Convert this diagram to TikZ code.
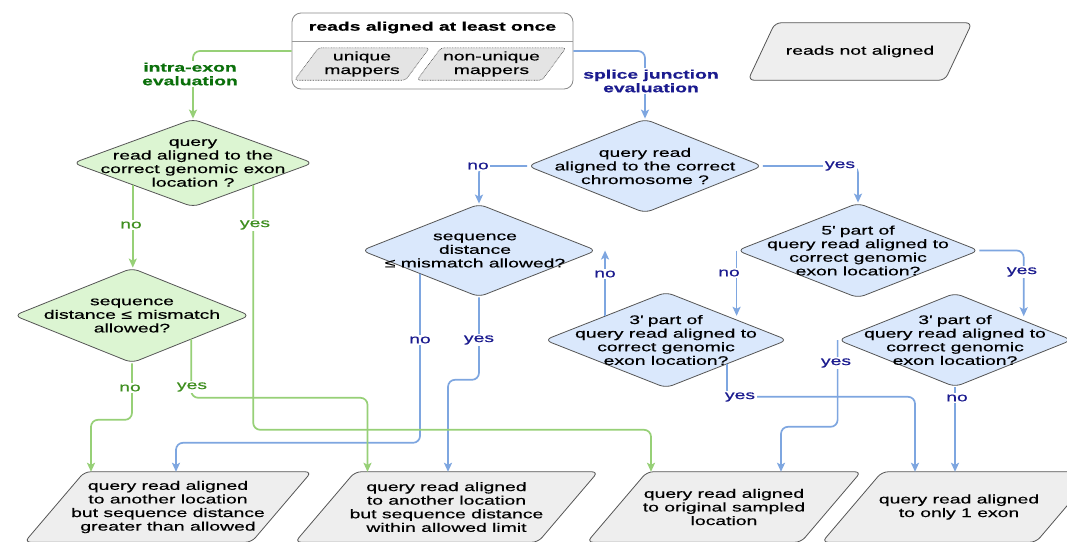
\documentclass[tikz,border=0pt]{standalone}
\usepackage{fontspec}
\setmainfont{Liberation Sans}[FakeStretch=1.56,FakeBold=0.5]
\usetikzlibrary{shapes.geometric,arrows.meta,calc,backgrounds}

\definecolor{gline}{HTML}{97D077}
\definecolor{bline}{HTML}{7EA6E0}
\definecolor{gfill}{HTML}{DCF5D2}
\definecolor{bfill}{HTML}{DAE8FC}
\definecolor{boxfill}{HTML}{EEEEEE}
\definecolor{subfill}{HTML}{E4E4E4}
\definecolor{edge}{HTML}{555555}
\definecolor{gtext}{HTML}{3F8F20}
\definecolor{gdark}{HTML}{0B700B}
\definecolor{btext}{HTML}{1B1B8F}

\newcommand{\parashape}[4]{%
  \path[#1] ($(#2.north)+({-#3+#4},0)$) -- ($(#2.north)+({#3+#4},0)$) --
    ($(#2.south)+({#3-#4},0)$) -- ($(#2.south)+({-#3-#4},0)$) -- cycle;}

\tikzset{
  every node/.style={font=\fontsize{12.4}{13.6}\selectfont},
  dia/.style={diamond, draw=edge, line width=0.8pt, rounded corners=7pt, inner sep=0pt},
  gdia/.style={dia, fill=gfill},
  bdia/.style={dia, fill=bfill},
  dtext/.style={align=center, inner sep=0pt},
  btxt/.style={align=center, inner sep=0pt, minimum height=70pt},
  boxshape/.style={draw=edge, fill=boxfill, line width=0.8pt, rounded corners=6pt},
  subshape/.style={draw=edge, fill=subfill, line width=0.6pt, dash pattern=on 0.8pt off 0.8pt, rounded corners=3pt},
  tipstyle/.style={-{Stealth[length=9pt,width=8pt,inset=2pt]}},
  gconn/.style={draw=gline, line width=1.7pt, rounded corners=7pt, tipstyle},
  bconn/.style={draw=bline, line width=1.7pt, rounded corners=7pt, tipstyle},
  glab/.style={fill=white, text=gtext, inner sep=1.5pt, align=center},
  blab/.style={fill=white, text=btext, inner sep=1.5pt, align=center},
}

\begin{document}
\begin{tikzpicture}[x=1pt,y=-1pt]
\useasboundingbox (0,0) rectangle (1067,541);
\clip (0,0) rectangle (1067,541);

% top container
\node[draw=edge!70, line width=0.8pt, rounded corners=9pt, minimum width=281pt, minimum height=76pt, inner sep=0pt] (cont) at (432.5,51) {};
\draw[draw=edge!60, line width=0.6pt] ($(cont.north west)+(0,29)$) -- ($(cont.north east)+(0,29)$);
\node[inner sep=0pt] (title) at (432.5,27.5) {\bfseries reads aligned at least once};
\node[align=center, inner sep=0pt, minimum height=32pt] (uq) at (362,64) {unique\\mappers};
\node[align=center, inner sep=0pt, minimum height=32pt] (nuq) at (491.5,64) {non-unique\\mappers};

% reads not aligned
\node[inner sep=0pt, minimum height=57pt] (na) at (860,51.5) {reads not aligned};

% diamonds
\node[gdia, minimum width=240pt, minimum height=88pt] (d1) at (193,163) {};
\node[dtext] (d1t) at (d1) {query\\read aligned to the\\correct genomic exon\\location ?};
\node[gdia, minimum width=236pt, minimum height=95pt] (d2) at (132,315.5) {};
\node[dtext] (d2t) at (d2) {sequence\\distance ≤ mismatch\\allowed?};

\node[bdia, minimum width=235pt, minimum height=94pt] (a) at (645,166) {};
\node[dtext] (at) at (a) {query read\\aligned to the correct\\chromosome ?};
\node[bdia, minimum width=235pt, minimum height=93pt] (b) at (479,250.5) {};
\node[dtext] (bt) at ($(b)+(-4,0)$) {sequence\\distance\\≤ mismatch allowed?};
\node[bdia, minimum width=242pt, minimum height=95pt] (c) at (858,250.5) {};
\node[dtext] (ct) at (c) {5\textquotesingle{} part of\\query read aligned to\\correct genomic\\exon location?};
\node[bdia, minimum width=243pt, minimum height=96pt] (d) at (666,340) {};
\node[dtext] (dt) at (d) {3\textquotesingle{} part of\\query read aligned to\\correct genomic\\exon location?};
\node[bdia, minimum width=234pt, minimum height=94pt] (e) at (955,340) {};
\node[dtext] (et) at (e) {3\textquotesingle{} part of\\query read aligned to\\correct genomic\\exon location?};

% result boxes (text)
\node[btxt] (b1) at (168,507) {query read aligned\\to another location\\but sequence distance\\greater than allowed};
\node[btxt] (b2) at (446.5,507) {query read aligned\\to another location\\but sequence distance\\within allowed limit};
\node[btxt] (b3) at (724,507) {query read aligned\\to original sampled\\location};
\node[btxt] (b4) at (959,507) {query read aligned\\to only 1 exon};

% shapes behind
\begin{pgfonlayer}{background}
  \fill[white] (0,0) rectangle (1067,541);
  \parashape{subshape}{uq}{55.5}{12}
  \parashape{subshape}{nuq}{62.5}{12}
  \parashape{boxshape}{na}{98.5}{13.5}
  \parashape{boxshape}{b1}{113.5}{30}
  \parashape{boxshape}{b2}{121.5}{30}
  \parashape{boxshape}{b3}{107}{30}
  \parashape{boxshape}{b4}{107}{30}
\end{pgfonlayer}

% blue connectors
\draw[bconn] (cont.east) -| (a.north);
\draw[bconn] (a.west) -| (b.north);
\draw[bconn] (a.east) -| (c.north);
\draw[bconn] (b.south west) |- ($(b1.north)+(8,-29)$) -- ($(b1.north)+(8,0)$);
\draw[bconn] (b.south) |- ($(b2.north)+(1.5,-92)$) -- ($(b2.north)+(1.5,0)$);
\draw[bconn] (c.west) -- (c.west |- d.north east);
\draw[bconn] (d.north west) -- (d.north west |- b.east);
\draw[bconn] (c.east) -| ($(e.north east)+(10,0)$);
\draw[bconn] (e.west) |- ($(b3.north)+(57,-45)$) -- ($(b3.north)+(57,0)$);
\draw[bconn] (d.south east) |- ($(b4.north)+(-44,-75)$) -- ($(b4.north)+(-44,0)$);
\draw[bconn] (e.south) -- (e.south |- b4.north);

% green connectors
\draw[gconn] (cont.west) -| (d1.north);
\draw[gconn] (d1.south west) -- (d1.south west |- d2.north);
\draw[gconn] (d1.south east) |- ($(b3.north)+(-73,-42)$) -- ($(b3.north)+(-73,0)$);
\draw[gconn] (d2.south) |- ($(b1.north)+(-77,-52)$) -- ($(b1.north)+(-77,0)$);
\draw[gconn] (d2.south east) |- ($(b2.north)+(-79,-74)$) -- ($(b2.north)+(-79,0)$);

% labels
\node[glab, text=gdark] (lg1) at (190,74) {\bfseries intra-exon\\\bfseries evaluation};
\node[blab] (lb1) at (651,81) {\bfseries splice junction\\\bfseries evaluation};
\node[glab] (lg2) at (131,225) {no};
\node[glab] (lg3) at (255,225) {yes};
\node[glab] (lg4) at (130,388) {no};
\node[glab] (lg5) at (192,387) {yes};
\node[blab] (lb2) at (478,166) {no};
\node[blab] (lb3) at (840,166) {yes};
\node[blab] (lb4) at (420,340) {no};
\node[blab] (lb5) at (479,340) {yes};
\node[blab] (lb6) at (729,273) {no};
\node[blab] (lb7) at (605,274) {no};
\node[blab] (lb8) at (1022,272) {yes};
\node[blab] (lb9) at (836,363) {yes};
\node[blab] (lb10) at (740,397) {yes};
\node[blab] (lb11) at (957,398) {no};
\end{tikzpicture}
\end{document}
